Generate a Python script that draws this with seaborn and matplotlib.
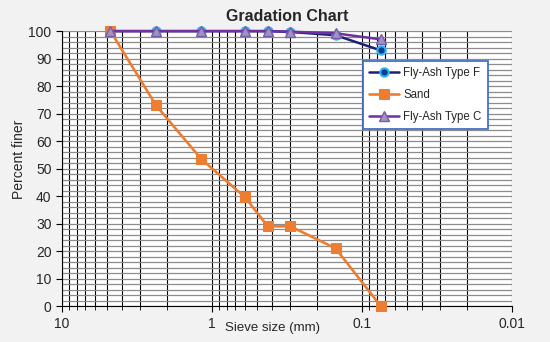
import matplotlib
matplotlib.use("Agg")
import matplotlib.pyplot as plt
import seaborn as sns
import pandas as pd
from matplotlib.ticker import FixedLocator, LogLocator, NullFormatter, FixedFormatter

sieve = [4.75, 2.36, 1.18, 0.6, 0.425, 0.3, 0.15, 0.075]
fly_f = [100, 100, 100, 100, 100, 99.7, 98.5, 93]
sand = [100, 73, 53.5, 39.5, 29, 29, 21, 0]
fly_c = [100, 100, 100, 100, 100, 99.8, 99.2, 97]

sns.set_style("white")
plt.rcParams['font.family'] = ['Liberation Sans', 'DejaVu Sans']

fig = plt.figure(figsize=(5.5, 3.42), dpi=100, facecolor="#f2f2f2")
ax = fig.add_axes([0.1127, 0.105, 0.8182, 0.804])
ax.set_facecolor("white")

ax.set_xscale("log")
ax.set_xlim(10, 0.01)
ax.set_ylim(0, 100)

# grid
ax.xaxis.set_major_locator(FixedLocator([10, 1, 0.1, 0.01]))
ax.xaxis.set_major_formatter(FixedFormatter(["10", "1", "0.1", "0.01"]))
ax.xaxis.set_minor_locator(LogLocator(base=10, subs=range(2, 10)))
ax.xaxis.set_minor_formatter(NullFormatter())
ax.yaxis.set_major_locator(FixedLocator(range(0, 101, 10)))
ax.yaxis.set_minor_locator(FixedLocator(range(0, 101, 2)))
ax.grid(True, which="both", axis="x", color="black", linewidth=0.8)
ax.grid(True, which="both", axis="y", color="#8c8c8c", linewidth=0.9)
ax.set_axisbelow(True)

df_f = pd.DataFrame({"size": sieve, "pf": fly_f})
df_s = pd.DataFrame({"size": sieve, "pf": sand})
df_c = pd.DataFrame({"size": sieve, "pf": fly_c})

sns.lineplot(data=df_f, x="size", y="pf", ax=ax, color="#1f1f7a", linewidth=1.8,
             marker="o", markersize=6, markerfacecolor="#0b3d91",
             markeredgecolor="#29b6f6", markeredgewidth=1.5, label="Fly-Ash Type F",
             sort=False, zorder=3, clip_on=False)
sns.lineplot(data=df_s, x="size", y="pf", ax=ax, color="#ed7d31", linewidth=1.9,
             marker="s", markersize=7, markerfacecolor="#ed7d31",
             markeredgecolor="#ed7d31", label="Sand", sort=False, zorder=4,
             clip_on=False)
sns.lineplot(data=df_c, x="size", y="pf", ax=ax, color="#7030a0", linewidth=1.8,
             marker="^", markersize=7, markerfacecolor="#a093c0",
             markeredgecolor="#7c5ca8", markeredgewidth=1, label="Fly-Ash Type C",
             sort=False, zorder=5, clip_on=False)

ax.set_title("Gradation Chart", fontsize=11.5, fontweight="bold", pad=7)
ax.set_xlabel("Sieve size (mm)", fontsize=9.5)
ax.set_ylabel("Percent finer", fontsize=10)
ax.xaxis.set_label_coords(0.467, -0.058)
ax.yaxis.set_label_coords(-0.08, 0.535)
ax.tick_params(axis="both", which="major", labelsize=10, length=4, direction="out",
               color="black", width=0.8, bottom=True, left=True)
ax.tick_params(axis="x", which="minor", length=3, direction="out", color="black",
               bottom=True)
ax.tick_params(axis="y", which="minor", length=0)
ax.tick_params(axis="x", pad=4)

for s in ["left", "bottom"]:
    ax.spines[s].set_color("black")
    ax.spines[s].set_linewidth(0.8)
for s in ["top", "right"]:
    ax.spines[s].set_visible(False)

leg = ax.legend(loc="upper right", bbox_to_anchor=(0.947, 0.891), fontsize=8.3,
                frameon=True, fancybox=False, framealpha=1, edgecolor="#4472c4",
                borderpad=0.55, labelspacing=0.85, handlelength=2.6, handletextpad=0.4,
                borderaxespad=0)
leg.get_frame().set_linewidth(1.3)

fig.savefig("out.png", dpi=100, facecolor=fig.get_facecolor())
